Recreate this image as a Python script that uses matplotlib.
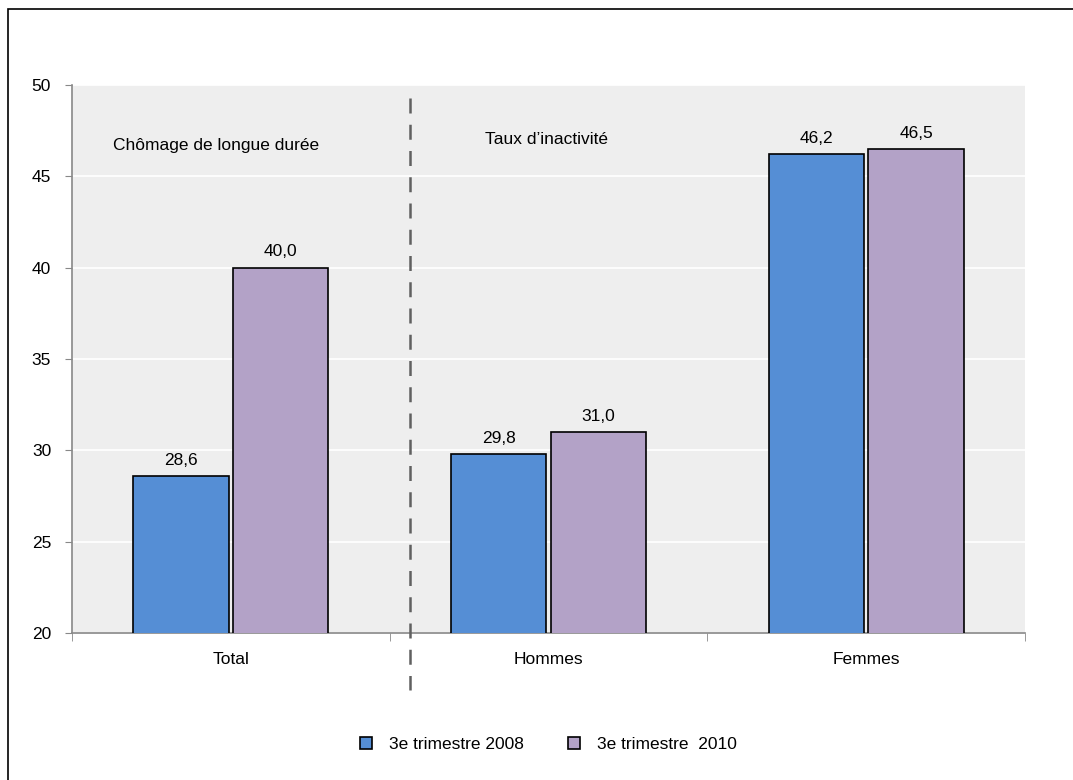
import matplotlib.pyplot as plt
from matplotlib.patches import Rectangle
import numpy as np

plt.rcParams['font.family'] = ['Liberation Sans', 'DejaVu Sans']

categories = ["Total", "Hommes", "Femmes"]
series_2008 = [28.6, 29.8, 46.2]
series_2010 = [40.0, 31.0, 46.5]
labels = ["3e trimestre 2008", "3e trimestre  2010"]
colors = ["#558ED5", "#B3A2C7"]

fs = 12.5

fig = plt.figure(figsize=(10.73, 7.8), dpi=100)
ax = fig.add_axes([0.0671, 0.1885, 0.8882, 0.7025])
ax.set_facecolor("#EEEEEE")

x = np.arange(len(categories))
w = 0.30
b1 = ax.bar(x - 0.157, series_2008, w, color=colors[0], edgecolor="black",
            linewidth=1.2, label=labels[0], zorder=3)
b2 = ax.bar(x + 0.157, series_2010, w, color=colors[1], edgecolor="black",
            linewidth=1.2, label=labels[1], zorder=3)

for bars, vals in ((b1, series_2008), (b2, series_2010)):
    for r, v in zip(bars, vals):
        ax.text(r.get_x() + r.get_width() / 2, v + 0.45, f"{v:.1f}".replace(".", ","),
                ha="center", va="bottom", fontsize=fs)

ax.set_xlim(-0.5, 2.5)
ax.set_ylim(20, 50)
ax.set_yticks(range(20, 51, 5))
ax.yaxis.grid(True, color="white", linewidth=1.2, zorder=0)
ax.set_axisbelow(True)

ax.set_xticks(x)
ax.set_xticklabels(categories, fontsize=fs)
ax.set_xticks([-0.5, 0.5, 1.5, 2.5], minor=True)
ax.tick_params(axis="x", which="major", length=0, pad=14)
ax.tick_params(axis="x", which="minor", length=6, color="#888888")
ax.tick_params(axis="y", length=5, color="#888888", labelsize=fs, pad=10)

for s in ("top", "right"):
    ax.spines[s].set_visible(False)
for s in ("left", "bottom"):
    ax.spines[s].set_color("#888888")
    ax.spines[s].set_linewidth(1.2)

# dashed separator between the two panels
ax.plot([0.563, 0.563], [49.3, 16.9], color="#606060", linewidth=1.8,
        dashes=(6, 4.5), clip_on=False, zorder=4)

ax.text(-0.047, 46.7, "Chômage de longue durée", ha="center", va="center", fontsize=fs)
ax.text(0.994, 47.0, "Taux d\u2019inactivité", ha="center", va="center", fontsize=fs)

ax.legend(loc="center", bbox_to_anchor=(0.5, -0.203), ncol=2, frameon=False,
          fontsize=fs, handlelength=0.7, handleheight=0.7, columnspacing=2.5,
          handletextpad=1.0)

fig.patches.append(Rectangle((8 / 1073, -0.05), 1.1, 1 - 9 / 780 + 0.05,
                             transform=fig.transFigure, fill=False,
                             edgecolor="black", linewidth=1.2))

fig.savefig("out.png", dpi=100)
